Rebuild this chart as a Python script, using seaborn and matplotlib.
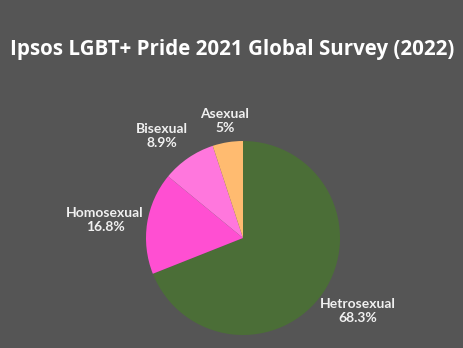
import matplotlib
matplotlib.use("Agg")
import matplotlib.pyplot as plt
import seaborn as sns

categories = ["Hetrosexual", "Homosexual", "Bisexual", "Asexual"]
values = [68.3, 16.8, 8.9, 5.0]
value_labels = ["68.3%", "16.8%", "8.9%", "5%"]
colors = ["#4b6e37", "#ff4fd2", "#ff77dd", "#ffbb70"]

sns.set_theme(style="white")
plt.rcParams["font.family"] = ["Open Sans", "DejaVu Sans"]

bg = "#555555"
fig = plt.figure(figsize=(4.64, 3.48), dpi=100, facecolor=bg)

fig.text(0.5, 1 - 49 / 348, "Ipsos LGBT+ Pride 2021 Global Survey (2022)",
         ha="center", va="center", color="white", fontsize=14.8, fontweight="bold",
         family=["Open Sans", "DejaVu Sans"])

ax = fig.add_axes([(243 - 97) / 464, (348 - 335) / 348, 194 / 464, 194 / 348])
ax.set_facecolor(bg)
ax.pie(values, colors=sns.color_palette(colors), startangle=90, counterclock=False,
       wedgeprops=dict(linewidth=0))
ax.set_xlim(-1, 1)
ax.set_ylim(-1, 1)
ax.set_aspect("equal")
ax.axis("off")

label_pos = [(358, 311), (105, 220), (162, 136), (225, 121)]
for name, lab, (x, y) in zip(categories, value_labels, label_pos):
    fig.text(x / 464, 1 - y / 348, f"{name}\n{lab}", ha="center", va="center",
             color="#f0f0f0", fontsize=10, fontweight="bold", linespacing=1.15,
             family=["Lato", "DejaVu Sans"])

fig.savefig("out.png", dpi=100, facecolor=bg)
